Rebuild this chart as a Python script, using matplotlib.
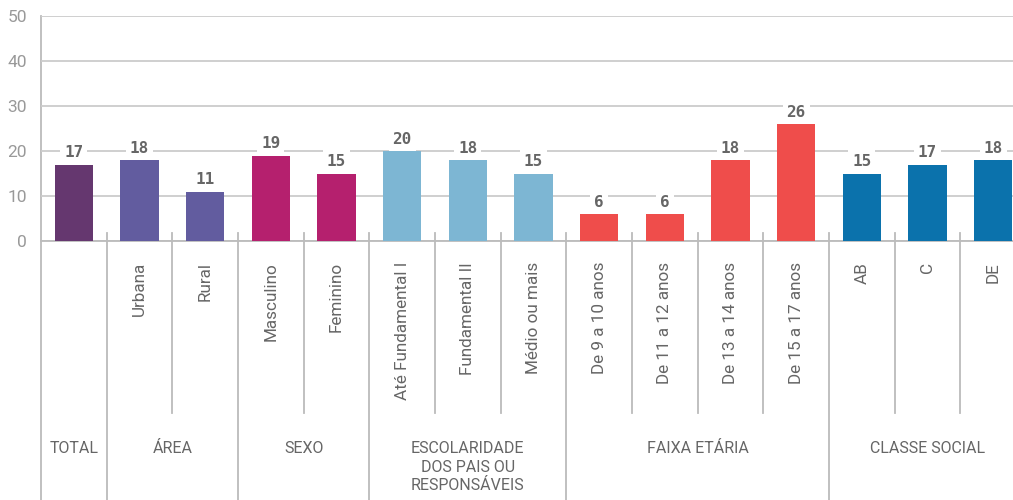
import numpy as np
import matplotlib
matplotlib.use("Agg")
import matplotlib.pyplot as plt
import matplotlib.transforms as mtransforms

# dados
categorias = ["", "Urbana", "Rural", "Masculino", "Feminino",
              "Até Fundamental I", "Fundamental II", "Médio ou mais",
              "De 9 a 10 anos", "De 11 a 12 anos", "De 13 a 14 anos", "De 15 a 17 anos",
              "AB", "C", "DE"]
valores = [17, 18, 11, 19, 15, 20, 18, 15, 6, 6, 18, 26, 15, 17, 18]
grupos = ["TOTAL", "ÁREA", "SEXO", "ESCOLARIDADE\nDOS PAIS OU\nRESPONSÁVEIS",
          "FAIXA ETÁRIA", "CLASSE SOCIAL"]
tamanho_grupos = [1, 2, 2, 3, 4, 3]
cores_grupos = ["#65376F", "#625C9F", "#B5206E", "#7DB6D3", "#EF4D4B", "#0B72AC"]
yticks = [0, 10, 20, 30, 40, 50]

plt.rcParams['font.family'] = ['Roboto', 'DejaVu Sans']

cores = []
for cor, n in zip(cores_grupos, tamanho_grupos):
    cores += [cor] * n

fig = plt.figure(figsize=(10.13, 5.0), dpi=100)
ax = fig.add_axes([41 / 1013, 1 - 241 / 500, 985 / 1013, 225 / 500])

x = np.arange(len(valores))
ax.bar(x, valores, width=0.58, color=cores, zorder=3)
ax.set_xlim(-0.5, len(valores) - 0.5)
ax.set_ylim(0, 50)

# grade
ax.set_yticks(yticks)
ax.yaxis.grid(True, color="#cccccc", linewidth=1.3, zorder=0)
ax.tick_params(axis="y", length=0, labelsize=12.5, labelcolor="#999999", pad=10)
ax.set_xticks([])
for s in ["top", "right", "left"]:
    ax.spines[s].set_visible(False)
ax.spines["bottom"].set_color("#bbbbbb")
ax.spines["bottom"].set_linewidth(1.3)

# valores nas barras
for xi, v in zip(x, valores):
    ax.annotate(str(v), (xi, v), xytext=(0, 3), textcoords="offset points",
                ha="center", va="bottom", fontsize=11.5, fontweight="bold",
                color="#666666", family=["DejaVu Sans Mono"], zorder=4,
                bbox=dict(boxstyle="square,pad=0.25", fc="white", ec="none"))

trans = mtransforms.blended_transform_factory(ax.transData, ax.transAxes)
h = 225.0
topo = 8 / h
fundo_int = -(413 - 241) / h
fundo_ext = -(500 - 241) / h

# linhas divisórias
limites = np.cumsum(tamanho_grupos)[:-1]
ax.plot([-0.5, -0.5], [1.0, fundo_ext], transform=trans, color="#bbbbbb",
        lw=1.3, clip_on=False, zorder=1)
for i in range(1, len(valores)):
    externo = i in limites
    ax.plot([i - 0.5, i - 0.5], [topo, fundo_ext if externo else fundo_int],
            transform=trans, color="#bbbbbb", lw=1.3, clip_on=False, zorder=1)

# rótulos das categorias
for xi, c in zip(x, categorias):
    ax.text(xi, -(262 - 241) / h, c, transform=trans, rotation=90,
            ha="center", va="top", fontsize=12.3, color="#666666")

# rótulos dos grupos
inicio = 0
for g, n in zip(grupos, tamanho_grupos):
    centro = inicio + (n - 1) / 2
    ax.text(centro, -(441 - 241) / h, g, transform=trans, ha="center",
            va="top", fontsize=11.5, color="#666666", linespacing=1.3)
    inicio += n

fig.savefig("out.png", dpi=100)
